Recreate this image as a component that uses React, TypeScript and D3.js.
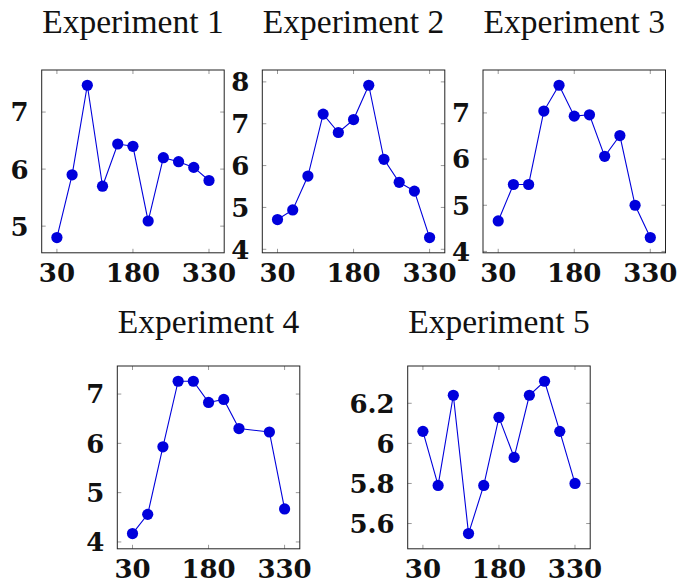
import React from "react";
import * as d3 from "d3";

const titles = ["Experiment 1", "Experiment 2", "Experiment 3", "Experiment 4", "Experiment 5"];
const xFull = [30, 60, 90, 120, 150, 180, 210, 240, 270, 300, 330];
const x4 = [30, 60, 90, 120, 150, 180, 210, 240, 300, 330];
const exp1 = [4.8, 5.9, 7.47, 5.7, 6.44, 6.4, 5.09, 6.2, 6.13, 6.03, 5.8];
const exp2 = [4.71, 4.94, 5.75, 7.23, 6.79, 7.1, 7.92, 6.15, 5.6, 5.39, 4.28];
const exp3 = [4.66, 5.45, 5.45, 7.04, 7.6, 6.93, 6.96, 6.06, 6.51, 5.0, 4.3];
const exp4 = [4.17, 4.56, 5.93, 7.26, 7.26, 6.83, 6.89, 6.3, 6.23, 4.67];
const exp5 = [6.06, 5.79, 6.24, 5.55, 5.79, 6.13, 5.93, 6.24, 6.31, 6.06, 5.8];
const xTicks = [30, 180, 330];
const yTicks1 = [5, 6, 7];
const yTicks2 = [4, 5, 6, 7, 8];
const yTicks3 = [4, 5, 6, 7];
const yTicks4 = [4, 5, 6, 7];
const yTicks5 = [5.6, 5.8, 6, 6.2];

const panels = [
  { title: titles[0], xs: xFull, ys: exp1, yTicks: yTicks1, left: 41.7, top: 70, titleY: 33 },
  { title: titles[1], xs: xFull, ys: exp2, yTicks: yTicks2, left: 262.3, top: 70, titleY: 33 },
  { title: titles[2], xs: xFull, ys: exp3, yTicks: yTicks3, left: 483, top: 70, titleY: 33 },
  { title: titles[3], xs: x4, ys: exp4, yTicks: yTicks4, left: 117.3, top: 366, titleY: 333 },
  { title: titles[4], xs: xFull, ys: exp5, yTicks: yTicks5, left: 407.7, top: 366, titleY: 333 },
];

const W = 182.5;
const H = 182.8;
const BLUE = "#0000dc";
const TICK_FONT = "'DejaVu Serif', serif";

function Panel({ p }: { p: (typeof panels)[number] }) {
  const x = d3.scaleLinear().domain([0, 360]).range([0, W]);
  const [lo, hi] = d3.extent(p.ys) as [number, number];
  const pad = (hi - lo) * 0.1;
  const y = d3.scaleLinear().domain([lo - pad, hi + pad]).range([H, 0]);
  const pts = p.xs.map((xv, i) => [xv, p.ys[i]] as [number, number]);
  const line = d3
    .line<[number, number]>()
    .x((d) => x(d[0]))
    .y((d) => y(d[1]));
  const fmt = (v: number) => String(v);
  return (
    <g transform={`translate(${p.left},${p.top})`}>
      <text
        x={W / 2}
        y={p.titleY - p.top}
        textAnchor="middle"
        fontFamily="'Liberation Serif', serif"
        fontSize={33.5}
        fill="#111"
      >
        {p.title}
      </text>
      {xTicks.map((t) => (
        <g key={"x" + t}>
          <line x1={x(t)} x2={x(t)} y1={H} y2={H - 4} stroke="#999" strokeWidth={1} />
          <line x1={x(t)} x2={x(t)} y1={0} y2={4} stroke="#999" strokeWidth={1} />
          <text
            x={x(t)}
            y={H + 29.5}
            textAnchor="middle"
            fontFamily={TICK_FONT}
            fontWeight="bold"
            fontSize={26}
            fill="#111"
          >
            {fmt(t)}
          </text>
        </g>
      ))}
      {p.yTicks.map((t) => (
        <g key={"y" + t}>
          <line x1={0} x2={4} y1={y(t)} y2={y(t)} stroke="#999" strokeWidth={1} />
          <line x1={W} x2={W - 4} y1={y(t)} y2={y(t)} stroke="#999" strokeWidth={1} />
          <text
            x={-13}
            y={y(t) + 9.4}
            textAnchor="end"
            fontFamily={TICK_FONT}
            fontWeight="bold"
            fontSize={26}
            fill="#111"
          >
            {fmt(t)}
          </text>
        </g>
      ))}
      <rect x={0} y={0} width={W} height={H} fill="none" stroke="#222" strokeWidth={1} />
      <path d={line(pts) || ""} fill="none" stroke={BLUE} strokeWidth={1.1} />
      {pts.map((d, i) => (
        <circle key={i} cx={x(d[0])} cy={y(d[1])} r={5.6} fill={BLUE} />
      ))}
    </g>
  );
}

export default function App() {
  return (
    <svg
      width={680}
      height={587}
      style={{ position: "absolute", left: 0, top: 0, background: "#fff" }}
    >
      {panels.map((p, i) => (
        <Panel key={i} p={p} />
      ))}
    </svg>
  );
}
